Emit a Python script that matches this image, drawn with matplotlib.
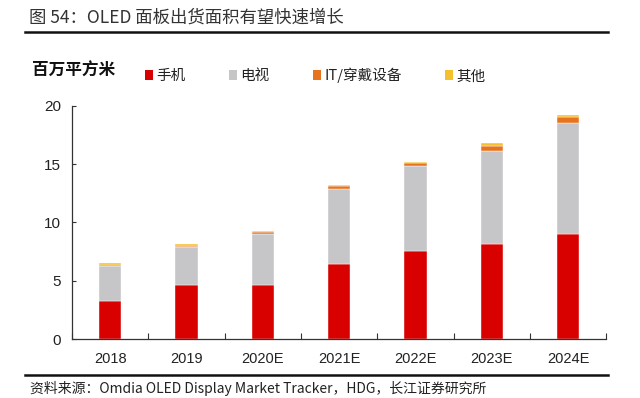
import matplotlib
matplotlib.use("Agg")
import matplotlib.pyplot as plt
import numpy as np
from matplotlib.lines import Line2D

plt.rcParams['font.family'] = ['Noto Sans CJK SC', 'DejaVu Sans']

categories = ["2018", "2019", "2020E", "2021E", "2022E", "2023E", "2024E"]
phone = [3.25, 4.6, 4.67, 6.47, 7.55, 8.18, 8.97]
tv = [3.02, 3.3, 4.36, 6.41, 7.3, 7.97, 9.53]
it_wear = [0.12, 0.12, 0.14, 0.22, 0.22, 0.43, 0.56]
other = [0.1, 0.1, 0.1, 0.12, 0.1, 0.2, 0.15]
series_names = ["手机", "电视", "IT/穿戴设备", "其他"]
colors = ["#D90000", "#C6C6C8", "#E8731E", "#F4C02E"]
yticks = [0, 5, 10, 15, 20]

fig = plt.figure(figsize=(6.4, 3.98), dpi=100)
ax = fig.add_axes([0.1125, 0.148, 0.835, 0.586])

x = np.arange(len(categories))
bottom = np.zeros(len(categories))
handles = []
for vals, c, name in zip([phone, tv, it_wear, other], colors, series_names):
    b = ax.bar(x, vals, width=0.29, bottom=bottom, color=c, edgecolor="white",
               linewidth=0.3, label=name, zorder=2)
    handles.append(b)
    bottom = bottom + np.array(vals)

ax.set_xlim(-0.5, len(categories) - 0.5)
ax.set_ylim(0, 20)
ax.set_yticks(yticks)
ax.set_yticklabels([str(t) for t in yticks], fontsize=11, color="#222222",
                   family=['Liberation Sans', 'DejaVu Sans'])
ax.set_xticks(x)
ax.set_xticklabels(categories, fontsize=10.5, color="#222222",
                   family=['Liberation Sans', 'DejaVu Sans'])
ax.tick_params(axis='x', length=0, pad=9)
ax.tick_params(axis='y', direction='in', length=3, width=0.8, color="#333333", pad=8)
ax.set_xticks(np.arange(-0.5, len(categories)), minor=True)
ax.tick_params(axis='x', which='minor', direction='in', length=4, width=0.8, color="#333333")
for s in ["top", "right"]:
    ax.spines[s].set_visible(False)
for s in ["left", "bottom"]:
    ax.spines[s].set_color("#333333")
    ax.spines[s].set_linewidth(0.9)

fig.text(0.045, 0.955, "图 54：OLED 面板出货面积有望快速增长", fontsize=12.5,
         color="#333333", va="center", ha="left")
fig.add_artist(Line2D([0.039, 0.95], [0.919, 0.919], color="#111111", linewidth=1.8))
fig.add_artist(Line2D([0.039, 0.95], [0.058, 0.058], color="#111111", linewidth=1.8))

fig.text(0.05, 0.822, "百万平方米", fontsize=12, fontweight="bold", color="#111111",
         va="center", ha="left")

leg = fig.legend(handles=[h.patches[0] for h in handles], labels=series_names,
                 loc="center left", bbox_to_anchor=(0.218, 0.81), ncol=4,
                 frameon=False, fontsize=10.5, handlelength=0.55, handleheight=0.7,
                 handletextpad=0.2, columnspacing=3.0, borderaxespad=0)
for t in leg.get_texts():
    t.set_color("#222222")
for p in leg.get_patches():
    p.set_edgecolor("none")

fig.text(0.047, 0.004, "资料来源：Omdia OLED Display Market Tracker，HDG，长江证券研究所",
         fontsize=10, color="#222222", va="bottom", ha="left")

fig.savefig("out.png", dpi=100)
